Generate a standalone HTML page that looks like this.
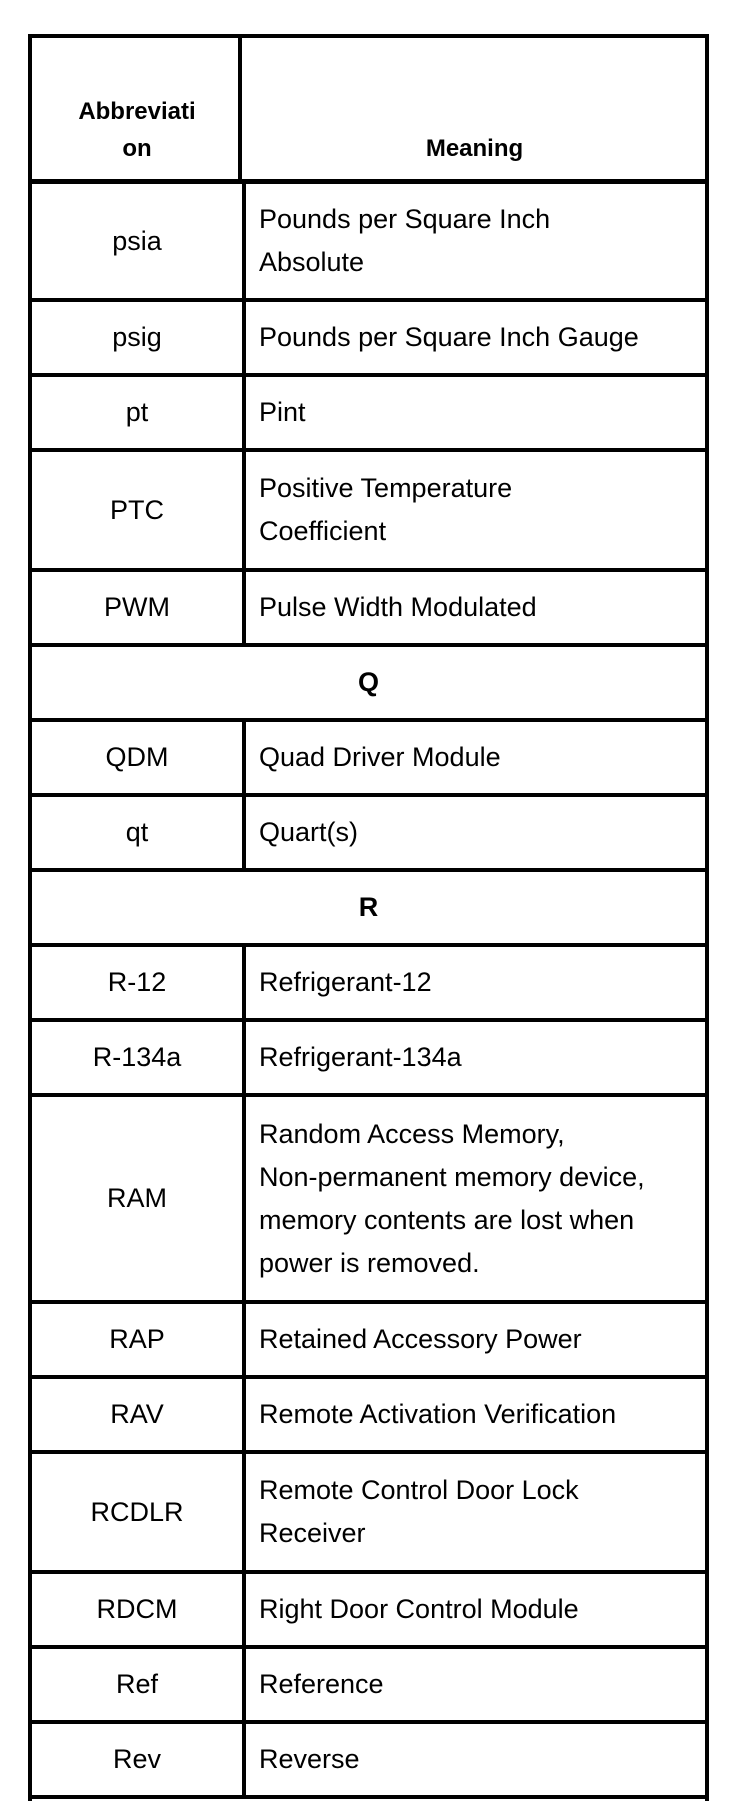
<!DOCTYPE html>
<html><head><meta charset="utf-8"><style>
html,body{margin:0;padding:0;background:#fff;}
body{width:752px;height:1820px;position:relative;overflow:hidden;font-family:"Liberation Sans",Arial,sans-serif;color:#000;}
.h{position:absolute;left:28px;width:681px;height:4px;background:#000;}
.v{position:absolute;width:4px;background:#000;}
.c{position:absolute;display:flex;align-items:center;font-size:27px;line-height:43px;}
.a{left:32px;width:210px;justify-content:center;text-align:center;}
.m{left:259px;width:445px;}
.f{left:32px;width:673px;justify-content:center;font-weight:bold;}
</style></head><body>
<div class="h" style="top:34px;height:4px"></div>
<div class="h" style="top:179px;height:5px"></div>
<div class="v" style="left:28px;top:34px;height:1767px"></div>
<div class="v" style="left:705px;top:34px;height:1767px"></div>
<div class="v" style="left:238px;top:34px;height:148px"></div>
<div class="v" style="left:242px;top:182px;height:463px"></div>
<div class="v" style="left:242px;top:720px;height:150px"></div>
<div class="v" style="left:242px;top:945px;height:854px"></div>

<div class="h" style="top:298px"></div>
<div class="h" style="top:373px"></div>
<div class="h" style="top:448px"></div>
<div class="h" style="top:568px"></div>
<div class="h" style="top:643px"></div>
<div class="h" style="top:718px"></div>
<div class="h" style="top:793px"></div>
<div class="h" style="top:868px"></div>
<div class="h" style="top:943px"></div>
<div class="h" style="top:1018px"></div>
<div class="h" style="top:1093px"></div>
<div class="h" style="top:1300px"></div>
<div class="h" style="top:1375px"></div>
<div class="h" style="top:1450px"></div>
<div class="h" style="top:1570px"></div>
<div class="h" style="top:1645px"></div>
<div class="h" style="top:1720px"></div>
<div class="h" style="top:1795px"></div>

<div class="c a" style="top:90px;height:80px;line-height:37px;font-weight:bold;font-size:24px">Abbreviati<br>on</div>
<div class="c m" style="top:128px;height:40px;left:244px;width:461px;justify-content:center;font-weight:bold;font-size:24px">Meaning</div>

<div class="c a" style="top:184px;height:114px">psia</div>
<div class="c m" style="top:184px;height:114px">Pounds per Square Inch<br>Absolute</div>
<div class="c a" style="top:302px;height:71px">psig</div>
<div class="c m" style="top:302px;height:71px">Pounds per Square Inch Gauge</div>
<div class="c a" style="top:377px;height:71px">pt</div>
<div class="c m" style="top:377px;height:71px">Pint</div>
<div class="c a" style="top:452px;height:116px">PTC</div>
<div class="c m" style="top:452px;height:116px">Positive Temperature<br>Coefficient</div>
<div class="c a" style="top:572px;height:71px">PWM</div>
<div class="c m" style="top:572px;height:71px">Pulse Width Modulated</div>
<div class="c f" style="top:647px;height:71px">Q</div>
<div class="c a" style="top:722px;height:71px">QDM</div>
<div class="c m" style="top:722px;height:71px">Quad Driver Module</div>
<div class="c a" style="top:797px;height:71px">qt</div>
<div class="c m" style="top:797px;height:71px">Quart(s)</div>
<div class="c f" style="top:872px;height:71px">R</div>
<div class="c a" style="top:947px;height:71px">R-12</div>
<div class="c m" style="top:947px;height:71px">Refrigerant-12</div>
<div class="c a" style="top:1022px;height:71px">R-134a</div>
<div class="c m" style="top:1022px;height:71px">Refrigerant-134a</div>
<div class="c a" style="top:1097px;height:203px">RAM</div>
<div class="c m" style="top:1097px;height:203px">Random Access Memory,<br>Non-permanent memory device,<br>memory contents are lost when<br>power is removed.</div>
<div class="c a" style="top:1304px;height:71px">RAP</div>
<div class="c m" style="top:1304px;height:71px">Retained Accessory Power</div>
<div class="c a" style="top:1379px;height:71px">RAV</div>
<div class="c m" style="top:1379px;height:71px">Remote Activation Verification</div>
<div class="c a" style="top:1454px;height:116px">RCDLR</div>
<div class="c m" style="top:1454px;height:116px">Remote Control Door Lock<br>Receiver</div>
<div class="c a" style="top:1574px;height:71px">RDCM</div>
<div class="c m" style="top:1574px;height:71px">Right Door Control Module</div>
<div class="c a" style="top:1649px;height:71px">Ref</div>
<div class="c m" style="top:1649px;height:71px">Reference</div>
<div class="c a" style="top:1724px;height:71px">Rev</div>
<div class="c m" style="top:1724px;height:71px">Reverse</div>
</body></html>
